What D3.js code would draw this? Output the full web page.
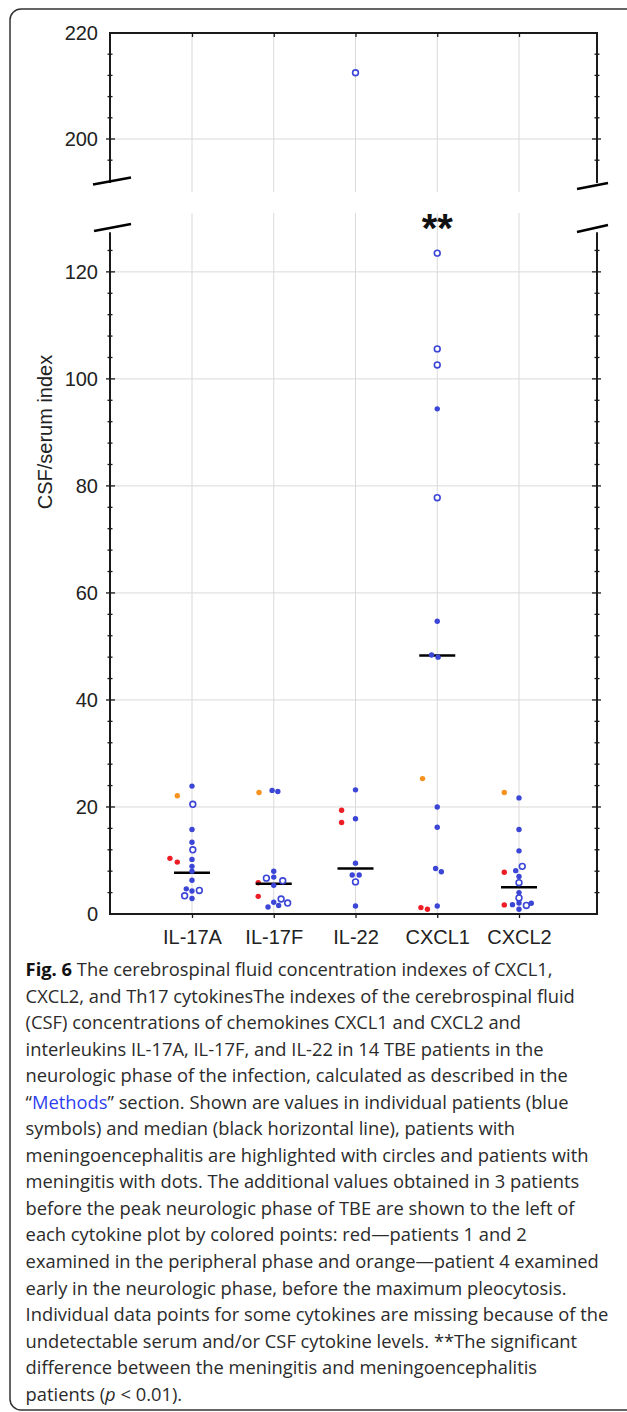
<!DOCTYPE html>
<html>
<head>
<meta charset="utf-8">
<script src="https://cdn.jsdelivr.net/npm/d3@7"></script>
<style>
  body { margin: 0; background: #fff; }
  svg { display: block; }
</style>
</head>
<body>
<div id="viz"></div>
<script>
// CSF/serum indexes of Th17 cytokines and chemokines

const categories = ["IL-17A", "IL-17F", "IL-22", "CXCL1", "CXCL2"];

// blue patients: "o" = meningoencephalitis (circle), "d" = meningitis (dot)
// jitter is a sideways shift, as a fraction of the category step
const il17aValues = [23.9, 20.5, 15.8, 13.4, 12.0, 10.2, 8.9, 8.0, 6.3, 4.7, 4.3, 4.4, 3.4, 2.9];
const il17aTypes  = ["d", "o", "d", "d", "o", "d", "d", "d", "d", "d", "d", "o", "o", "d"];
const il17aJitter = [0, 0.01, 0, 0, 0.01, 0, 0, 0, 0, -0.07, 0, 0.09, -0.09, 0];

const il17fValues = [23.1, 22.9, 8.0, 6.9, 6.7, 6.2, 5.35, 2.8, 2.2, 2.05, 1.3, 1.6];
const il17fTypes  = ["d", "d", "d", "d", "o", "o", "d", "o", "d", "o", "d", "d"];
const il17fJitter = [-0.02, 0.05, 0, 0, -0.09, 0.11, 0, 0.09, 0, 0.17, -0.07, 0.06];

const il22Values = [212.5, 23.2, 17.8, 9.5, 7.3, 7.3, 6.0, 1.5];
const il22Types  = ["o", "d", "d", "d", "d", "d", "o", "d"];
const il22Jitter = [0, 0, 0, 0, -0.04, 0.045, 0, 0];

const cxcl1Values = [123.5, 105.6, 102.6, 94.4, 77.8, 54.7, 48.4, 48.0, 20.0, 16.2, 8.5, 7.9, 1.5];
const cxcl1Types  = ["o", "o", "o", "d", "o", "d", "d", "d", "d", "d", "d", "d", "d"];
const cxcl1Jitter = [0, 0, 0, 0, 0, 0, -0.07, 0.01, 0, 0, -0.02, 0.05, 0];

const cxcl2Values = [21.7, 15.8, 11.8, 8.9, 8.1, 7.0, 5.85, 4.0, 3.0, 2.05, 1.75, 1.6, 2.0, 0.9];
const cxcl2Types  = ["d", "d", "d", "o", "d", "d", "o", "d", "o", "d", "d", "o", "d", "d"];
const cxcl2Jitter = [0, 0, 0, 0.04, -0.04, 0, 0, 0, 0, 0, -0.08, 0.09, 0.15, 0];

const medians = [7.7, 5.65, 8.5, 48.3, 5.0];

// patients 1 and 2, peripheral phase (red)
const redCategories = ["IL-17A", "IL-17A", "IL-17F", "IL-17F", "IL-22", "IL-22", "CXCL1", "CXCL1", "CXCL2", "CXCL2"];
const redValues     = [10.4, 9.7, 5.85, 3.3, 19.4, 17.1, 1.2, 0.9, 7.8, 1.7];
const redJitter     = [-0.27, -0.18, -0.19, -0.19, -0.17, -0.17, -0.2, -0.12, -0.18, -0.18];

// patient 4, early neurologic phase (orange)
const orangeCategories = ["IL-17A", "IL-17F", "CXCL1", "CXCL2"];
const orangeValues     = [22.1, 22.7, 25.3, 22.7];
const orangeJitter     = [-0.18, -0.18, -0.18, -0.18];

const lowTicks = [0, 20, 40, 60, 80, 100, 120];
const highTicks = [200, 220];

const captionLines = [
    [["Fig. 6", "b"], [" The cerebrospinal fluid concentration indexes of CXCL1,"]],
    [["CXCL2, and Th17 cytokinesThe indexes of the cerebrospinal fluid"]],
    [["(CSF) concentrations of chemokines CXCL1 and CXCL2 and"]],
    [["interleukins IL-17A, IL-17F, and IL-22 in 14 TBE patients in the"]],
    [["neurologic phase of the infection, calculated as described in the"]],
    [["\u201C"], ["Methods", "link"], ["\u201D section. Shown are values in individual patients (blue"]],
    [["symbols) and median (black horizontal line), patients with"]],
    [["meningoencephalitis are highlighted with circles and patients with"]],
    [["meningitis with dots. The additional values obtained in 3 patients"]],
    [["before the peak neurologic phase of TBE are shown to the left of"]],
    [["each cytokine plot by colored points: red\u2014patients 1 and 2"]],
    [["examined in the peripheral phase and orange\u2014patient 4 examined"]],
    [["early in the neurologic phase, before the maximum pleocytosis."]],
    [["Individual data points for some cytokines are missing because of the"]],
    [["undetectable serum and/or CSF cytokine levels. **The significant"]],
    [["difference between the meningitis and meningoencephalitis"]],
    [["patients ("], ["p", "i"], [" < 0.01)."]]
];

const blue = "#3b45d6", red = "#ee1c24", orange = "#f7931e";
const axisFont = "'Liberation Sans', Arial, sans-serif";

const width = 627, height = 1412;
const frame = { left: 110, right: 597, top: 33, bottom: 914 };

const svg = d3.select('#viz').append('svg')
    .attr('width', width)
    .attr('height', height);

// outer panel border (cut off on the right)
svg.append('rect')
    .attr('x', 10).attr('y', 9)
    .attr('width', 700).attr('height', 1401)
    .attr('rx', 11)
    .attr('fill', 'none')
    .attr('stroke', '#333')
    .attr('stroke-width', 1.5);

const x = d3.scalePoint().domain(categories).range([192, 519]);
const step = x.step();

// broken y axis: two panels
const yLow = d3.scaleLinear().domain([0, 131]).range([frame.bottom, 213]);
const yHigh = d3.scaleLinear().domain([190, 220]).range([192, frame.top]);
const y = v => v > 150 ? yHigh(v) : yLow(v);

const grid = svg.append('g').attr('stroke', '#d9d9d9').attr('stroke-width', 1);

// vertical grid lines in each panel
[yLow, yHigh].forEach(s => {
    grid.selectAll(null)
        .data(categories)
        .enter().append('line')
            .attr('x1', d => x(d)).attr('x2', d => x(d))
            .attr('y1', s.range()[0]).attr('y2', s.range()[1]);
});

grid.selectAll(null)
    .data(lowTicks.filter(d => d > 0))
    .enter().append('line')
        .attr('x1', frame.left).attr('x2', frame.right)
        .attr('y1', d => yLow(d)).attr('y2', d => yLow(d));

grid.selectAll(null)
    .data(highTicks.filter(d => d < 220))
    .enter().append('line')
        .attr('x1', frame.left).attr('x2', frame.right)
        .attr('y1', d => yHigh(d)).attr('y2', d => yHigh(d));

// frame lines
const axisColor = '#1a1a1a';
const lowTopValue = 127.4, highBottomValue = 191.7;
const frameG = svg.append('g').attr('stroke', axisColor).attr('stroke-width', 2).attr('fill', 'none');

[frame.left, frame.right].forEach(xx => {
    frameG.append('line')
        .attr('x1', xx).attr('x2', xx)
        .attr('y1', yLow(0)).attr('y2', yLow(lowTopValue));
    frameG.append('line')
        .attr('x1', xx).attr('x2', xx)
        .attr('y1', yHigh(220)).attr('y2', yHigh(highBottomValue));
});
frameG.append('line')
    .attr('x1', frame.left - 1).attr('x2', frame.right + 1)
    .attr('y1', yLow(0)).attr('y2', yLow(0));
frameG.append('line')
    .attr('x1', frame.left - 1).attr('x2', frame.right + 1)
    .attr('y1', yHigh(220)).attr('y2', yHigh(220));

// break marks
const breaks = [
    [93, 184.5, 131, 177.5],
    [94, 231, 131, 224],
    [577, 189, 608, 183],
    [577, 232, 608, 225]
];
svg.append('g')
    .selectAll('line')
    .data(breaks)
    .enter().append('line')
        .attr('x1', d => d[0]).attr('y1', d => d[1])
        .attr('x2', d => d[2]).attr('y2', d => d[3])
        .attr('stroke', '#000')
        .attr('stroke-width', 2.6);

// minor ticks every 4 units
const lowMinor = d3.range(4, 128, 4).filter(d => d % 20 !== 0);
const highMinor = d3.range(196, 220, 4).filter(d => d % 20 !== 0);

function drawTicks(scale, major, minor) {
    const g = svg.append('g').attr('stroke', axisColor).attr('stroke-width', 1.3);
    [frame.left, frame.right].forEach((xx, i) => {
        const dir = i === 0 ? 1 : -1;
        g.selectAll(null).data(major).enter().append('line')
            .attr('x1', xx - 4 * dir).attr('x2', xx + 5 * dir)
            .attr('y1', d => scale(d)).attr('y2', d => scale(d));
        g.selectAll(null).data(minor).enter().append('line')
            .attr('x1', xx - 2.5 * dir).attr('x2', xx + 2.5 * dir)
            .attr('y1', d => scale(d)).attr('y2', d => scale(d));
    });
}
drawTicks(yLow, lowTicks.filter(d => d > 0), lowMinor);
drawTicks(yHigh, highTicks.filter(d => d < 220), highMinor);

// y tick labels
const leftLow = svg.append('g')
    .attr('transform', `translate(${frame.left},0)`)
    .call(d3.axisLeft(yLow).tickValues(lowTicks).tickSize(0).tickPadding(12));
const leftHigh = svg.append('g')
    .attr('transform', `translate(${frame.left},0)`)
    .call(d3.axisLeft(yHigh).tickValues(highTicks).tickSize(0).tickPadding(12));
[leftLow, leftHigh].forEach(g => {
    g.select('.domain').remove();
    g.selectAll('text')
        .attr('font-family', axisFont)
        .attr('font-size', 20)
        .attr('fill', '#222');
});

// x axis
const bottomAxis = svg.append('g')
    .attr('transform', `translate(0,${frame.bottom})`)
    .call(d3.axisBottom(x).tickSize(4).tickPadding(12));
bottomAxis.select('.domain').remove();
bottomAxis.selectAll('.tick line').attr('stroke', axisColor).attr('stroke-width', 1.3);
bottomAxis.selectAll('text')
    .attr('font-family', axisFont)
    .attr('font-size', 20)
    .attr('fill', '#222');

const topAxis = svg.append('g')
    .attr('transform', `translate(0,${frame.top})`)
    .call(d3.axisBottom(x).tickSize(4).tickFormat(''));
topAxis.select('.domain').remove();
topAxis.selectAll('.tick line').attr('stroke', axisColor).attr('stroke-width', 1.3);

// y title
svg.append('text')
    .attr('transform', `translate(52,432) rotate(-90)`)
    .attr('text-anchor', 'middle')
    .attr('font-family', axisFont)
    .attr('font-size', 20)
    .attr('fill', '#222')
    .text('CSF/serum index');

// points
function series(cat, values, types, jitter) {
    return values.map((v, i) => ({ cat: cat, value: v, type: types[i], jitter: jitter[i] }));
}
const bluePoints = [].concat(
    series("IL-17A", il17aValues, il17aTypes, il17aJitter),
    series("IL-17F", il17fValues, il17fTypes, il17fJitter),
    series("IL-22", il22Values, il22Types, il22Jitter),
    series("CXCL1", cxcl1Values, cxcl1Types, cxcl1Jitter),
    series("CXCL2", cxcl2Values, cxcl2Types, cxcl2Jitter)
);
const extraPoints = [].concat(
    redValues.map((v, i) => ({ cat: redCategories[i], value: v, jitter: redJitter[i], color: red })),
    orangeValues.map((v, i) => ({ cat: orangeCategories[i], value: v, jitter: orangeJitter[i], color: orange }))
);

const pts = svg.append('g');

pts.selectAll('.extra')
    .data(extraPoints)
    .enter().append('circle')
        .attr('class', 'extra')
        .attr('cx', d => x(d.cat) + d.jitter * step)
        .attr('cy', d => y(d.value))
        .attr('r', 2.7)
        .attr('fill', d => d.color);

// median lines
pts.selectAll('.median')
    .data(medians)
    .enter().append('line')
        .attr('class', 'median')
        .attr('x1', (d, i) => x(categories[i]) - 18)
        .attr('x2', (d, i) => x(categories[i]) + 18)
        .attr('y1', d => y(d))
        .attr('y2', d => y(d))
        .attr('stroke', '#000')
        .attr('stroke-width', 2.6);

pts.selectAll('.blue')
    .data(bluePoints)
    .enter().append('circle')
        .attr('class', 'blue')
        .attr('cx', d => x(d.cat) + d.jitter * step)
        .attr('cy', d => y(d.value))
        .attr('r', d => d.type === 'o' ? 2.9 : 2.7)
        .attr('fill', d => d.type === 'o' ? '#fff' : blue)
        .attr('stroke', d => d.type === 'o' ? blue : 'none')
        .attr('stroke-width', 1.6);

// significance mark
svg.append('text')
    .attr('x', x("CXCL1"))
    .attr('y', 242)
    .attr('text-anchor', 'middle')
    .attr('font-family', axisFont)
    .attr('font-weight', 'bold')
    .attr('font-size', 40)
    .attr('fill', '#111')
    .text('**');

// caption
const cap = svg.append('g')
    .attr('font-family', "'Open Sans', sans-serif")
    .attr('font-size', 18)
    .attr('fill', '#2b2b2b');

captionLines.forEach((line, i) => {
    const t = cap.append('text')
        .attr('x', 0)
        .attr('y', 976 + i * 26.55);
    line.forEach(seg => {
        const s = t.append('tspan').text(seg[0]);
        if (seg[1] === 'b') s.attr('font-weight', 'bold').attr('fill', '#111');
        if (seg[1] === 'link') s.attr('fill', '#2f3ff0');
        if (seg[1] === 'i') s.attr('font-style', 'italic');
    });
});

// squeeze the caption horizontally to the width of the printed lines
const texts = cap.selectAll('text').nodes();
const measured = texts[8].getComputedTextLength() + texts[13].getComputedTextLength();
const sx = (562.4 + 574.4) / measured;
cap.attr('transform', `translate(25.6,0) scale(${sx},1)`);
</script>
</body>
</html>
